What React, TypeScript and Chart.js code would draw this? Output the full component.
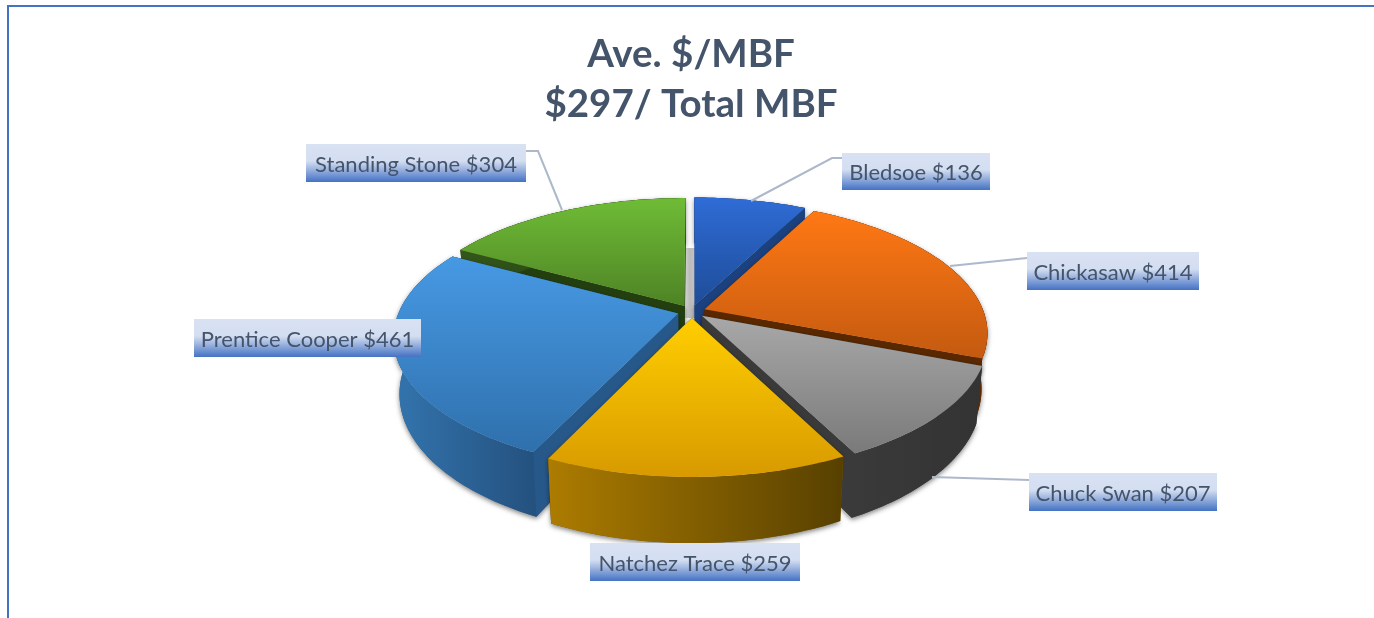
import React, { useEffect, useRef } from "react";
import { Chart, registerables } from "chart.js";

Chart.register(...registerables);

const categories = ["Bledsoe", "Chickasaw", "Chuck Swan", "Natchez Trace", "Prentice Cooper", "Standing Stone"];
const values = [136, 414, 207, 259, 461, 304];
const titleLines = ["Ave. $/MBF", "$297/ Total MBF"];

// styling per slice
const faceTop = ["#2F6CD6", "#FF7814", "#A8A8A8", "#FFCE00", "#4799E4", "#6FBC36"];
const faceBottom = ["#1E4C98", "#C45A10", "#7A7A7A", "#D89A00", "#2F70AC", "#4E8325"];
const cutColor = ["#1C417F", "#5A2800", "#3A3A3A", "#7A5A00", "#27588A", "#233F0F"];
const wallLeft = ["#1C417F", "#843C0C", "#3A3A3A", "#AD7C00", "#3374AE", "#33561A"];
const wallRight = ["#1C417F", "#5A2800", "#333333", "#574000", "#24517E", "#233F0F"];

// label placement: [box left, box top, box right, box bottom]
const labelBoxes = [
  [842, 153, 990, 190],
  [1027, 252, 1199, 290],
  [1029, 473, 1217, 511],
  [590, 543, 800, 581],
  [194, 319, 421, 357],
  [306, 144, 526, 182],
];
// leader polylines for the labels (empty when the label sits on the pie)
const leaders: number[][][] = [
  [[751, 201], [832, 158], [842, 158]],
  [[950, 266], [1027, 258]],
  [[932, 477], [1029, 480]],
  [],
  [],
  [[562, 210], [538, 151], [526, 151]],
];

// perspective view of the pie plane
const view = { cx: 691.5, cy: 311.5, R: 279, A: 128.6, p: 0.175, depth: 54, taper: 0.02 };

function project(u: number, v: number, z: number): [number, number] {
  const s = 1 / (1 - view.p * v);
  return [view.cx + view.R * u * s * (1 - view.taper * z), view.cy + view.A * v * s + view.depth * z * s];
}

const pie3d = {
  id: "pie3d",
  beforeDatasetsDraw(chart: any) {
    const ctx: CanvasRenderingContext2D = chart.ctx;
    const arcs = chart.getDatasetMeta(0).data as any[];
    const order = arcs
      .map((a, i) => ({ a, i, mid: (a.startAngle + a.endAngle) / 2 }))
      .sort((p, q) => Math.sin(p.mid) - Math.sin(q.mid));
    const path = (pts: [number, number][], append = false) => {
      if (!append) ctx.beginPath();
      pts.forEach(([x, y], n) => (n ? ctx.lineTo(x, y) : ctx.moveTo(x, y)));
      ctx.closePath();
    };

    // floor shadow seen through the rear gap between the slices
    const fl = project(-0.035, -1, 1);
    const fr = project(0.035, -1, 1);
    const shade = ctx.createLinearGradient(fl[0], 0, fr[0], 0);
    shade.addColorStop(0, "#E6E6E6");
    shade.addColorStop(0.4, "#BDBDBD");
    shade.addColorStop(0.75, "#C8C8C8");
    shade.addColorStop(1, "#EDEDED");
    ctx.fillStyle = shade;
    path([fl, fr, project(0.035, 0.05, 0), project(-0.035, 0.05, 0)]);
    ctx.fill();

    for (const { a, i, mid } of order) {
      const e = a.options.offset / 4 / view.R;
      const ou = Math.cos(mid) * e;
      const ov = Math.sin(mid) * e;
      const steps = Math.max(8, Math.ceil((a.endAngle - a.startAngle) / 0.02));
      const rim: [number, number][] = [];
      for (let k = 0; k <= steps; k++) {
        const t = a.startAngle + ((a.endAngle - a.startAngle) * k) / steps;
        rim.push([ou + Math.cos(t), ov + Math.sin(t)]);
      }
      const top = rim.map(([u, v]) => project(u, v, 0));
      const bottom = rim.map(([u, v]) => project(u, v, 1));
      const apexTop = project(ou, ov, 0);
      const apexBottom = project(ou, ov, 1);
      const cutA: [number, number][] = [apexTop, top[0], bottom[0], apexBottom];
      const cutB: [number, number][] = [apexTop, top[steps], bottom[steps], apexBottom];
      const outer = top.concat(bottom.slice().reverse());

      ctx.save();
      // soft shadow of the whole solid, cast once
      ctx.shadowColor = "rgba(0,0,0,0.5)";
      ctx.shadowBlur = 5;
      ctx.shadowOffsetY = 2;
      ctx.fillStyle = cutColor[i];
      path(cutA);
      path(cutB, true);
      path(outer, true);
      ctx.fill("nonzero");
      ctx.shadowColor = "transparent";

      // the two cut faces
      ctx.fillStyle = cutColor[i];
      path(cutA);
      ctx.fill();
      path(cutB);
      ctx.fill();

      // outer wall
      const xs = outer.map((p) => p[0]);
      const wall = ctx.createLinearGradient(Math.min(...xs), 0, Math.max(...xs), 0);
      wall.addColorStop(0, wallLeft[i]);
      wall.addColorStop(1, wallRight[i]);
      ctx.fillStyle = wall;
      path(outer);
      ctx.fill();

      // top face
      const face = [apexTop, ...top];
      const ys = face.map((p) => p[1]);
      const g = ctx.createLinearGradient(0, Math.min(...ys), 0, Math.max(...ys));
      g.addColorStop(0, faceTop[i]);
      g.addColorStop(1, faceBottom[i]);
      ctx.fillStyle = g;
      path(face);
      ctx.fill();
      ctx.restore();
    }
    return false;
  },
};

const frameAndLabels = {
  id: "frameAndLabels",
  beforeDraw(chart: any) {
    const ctx: CanvasRenderingContext2D = chart.ctx;
    ctx.save();
    ctx.fillStyle = "#FFFFFF";
    ctx.fillRect(0, 0, chart.width, chart.height);
    ctx.strokeStyle = "#4472C4";
    ctx.lineWidth = 2;
    ctx.beginPath();
    ctx.moveTo(8, chart.height);
    ctx.lineTo(8, 6);
    ctx.lineTo(chart.width, 6);
    ctx.stroke();
    ctx.restore();
  },
  afterDraw(chart: any) {
    const ctx: CanvasRenderingContext2D = chart.ctx;
    ctx.save();
    ctx.strokeStyle = "#ADB9CA";
    ctx.lineWidth = 2;
    leaders.forEach((line) => {
      if (!line.length) return;
      ctx.beginPath();
      line.forEach(([x, y], n) => (n ? ctx.lineTo(x, y) : ctx.moveTo(x, y)));
      ctx.stroke();
    });
    categories.forEach((name, i) => {
      const [l, t, r, b] = labelBoxes[i];
      const g = ctx.createLinearGradient(0, t, 0, b);
      g.addColorStop(0, "#D8E2F3");
      g.addColorStop(0.45, "#D4DEF1");
      g.addColorStop(1, "#4472C4");
      ctx.fillStyle = g;
      ctx.fillRect(l, t, r - l, b - t);
      ctx.fillStyle = "#44546A";
      ctx.font = "22px Lato";
      ctx.textAlign = "center";
      ctx.textBaseline = "middle";
      ctx.fillText(`${name} $${values[i]}`, (l + r) / 2, (t + b) / 2 + 1.5);
    });
    ctx.restore();
  },
};

export default function App() {
  const ref = useRef<HTMLCanvasElement | null>(null);
  useEffect(() => {
    const chart = new Chart(ref.current as HTMLCanvasElement, {
      type: "pie",
      data: {
        labels: categories,
        datasets: [{ data: values, backgroundColor: faceTop, offset: 56, borderWidth: 0 }],
      },
      options: {
        animation: false,
        responsive: false,
        layout: { padding: { left: 8 } },
        plugins: {
          legend: { display: false },
          tooltip: { enabled: false },
          title: {
            display: true,
            text: titleLines,
            color: "#44546A",
            fullSize: false,
            font: { family: "Lato", size: 38.5, weight: "bold", lineHeight: 1.3 },
            padding: { top: 30, bottom: 10 },
          },
        },
      },
      plugins: [frameAndLabels, pie3d],
    } as any);
    return () => chart.destroy();
  }, []);
  return (
    <div style={{ position: "fixed", left: 0, top: 0, width: 1374, height: 618, background: "#fff" }}>
      <canvas ref={ref} width={1374} height={618} style={{ display: "block" }} />
    </div>
  );
}
